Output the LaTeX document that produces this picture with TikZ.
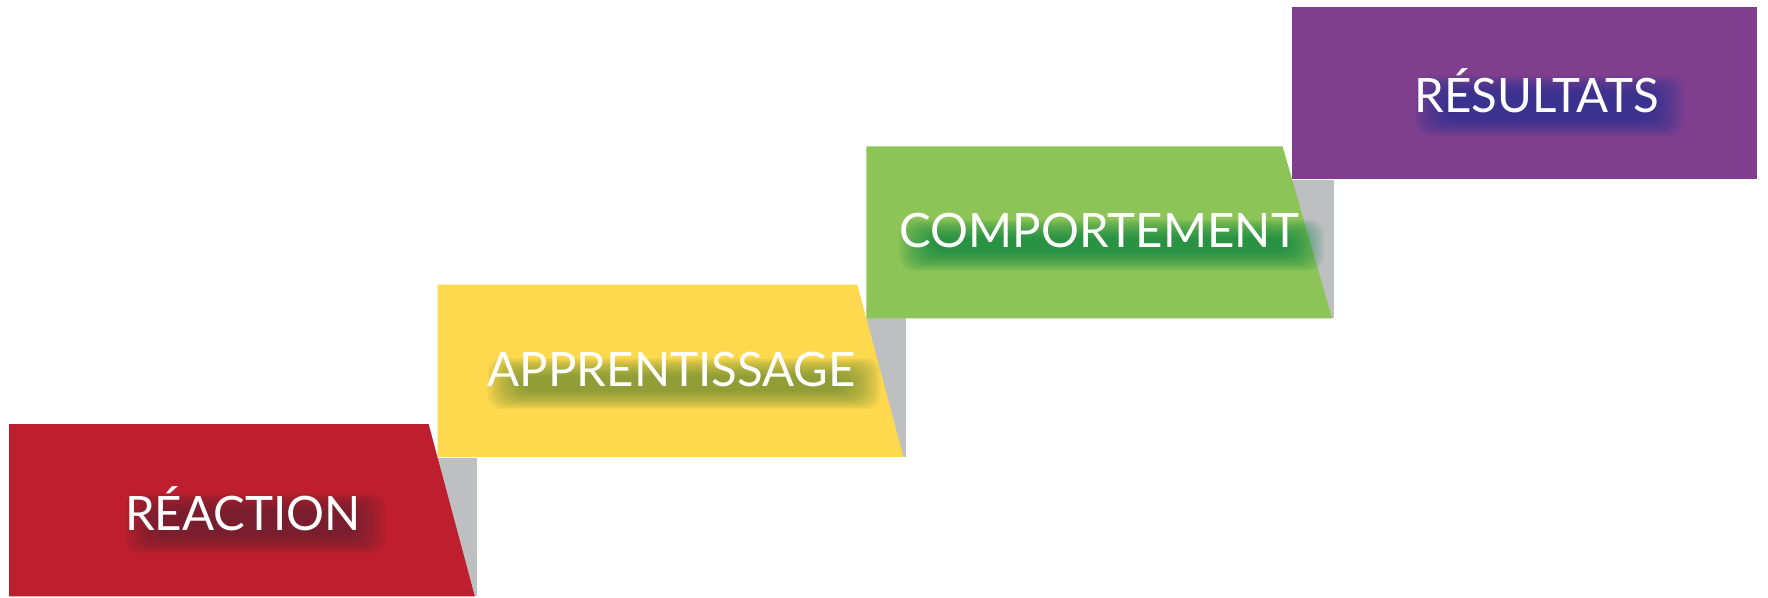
\documentclass[tikz,border=0pt]{standalone}
\usepackage{fontspec}
\setmainfont{Lato}
\usetikzlibrary{calc}
\definecolor{stepred}{RGB}{190,30,45}
\definecolor{glowred}{RGB}{95,35,45}
\definecolor{stepyellow}{RGB}{254,217,78}
\definecolor{glowyellow}{RGB}{95,135,50}
\definecolor{stepgreen}{RGB}{141,196,87}
\definecolor{glowgreen}{RGB}{0,130,65}
\definecolor{steppurple}{RGB}{128,63,142}
\definecolor{glowpurple}{RGB}{30,50,145}
\definecolor{stepgray}{RGB}{190,191,193}
\pgfdeclarelayer{blocks}
\pgfdeclarelayer{glow}
\pgfsetlayers{blocks,glow,main}
\tikzset{
	steplabel/.style={text=white,font=\fontsize{27}{30}\selectfont,inner sep=0pt},
}
\newcommand{\Step}[8]{
	\begin{scope}[shift={(#1,#2)}]
		%label
		\node[steplabel] (#6) at (#8,75) {#5};
		%block
		\begin{pgfonlayer}{blocks}
			\fill[#3](0,0)--(#7,0)--(414,153)--(0,153)--cycle;
		\end{pgfonlayer}
		%glow
		\begin{pgfonlayer}{glow}
			\foreach \i in {0,...,15}{
				\fill[#4,opacity=.065,rounded corners=8pt]
					($(#6.north west)+(0+2*\i,6+1.1*\i)$) rectangle ($(#6.south east)+(22-2*\i,20-1.1*\i)$);
			}
		\end{pgfonlayer}
	\end{scope}
}

\begin{document}
\begin{tikzpicture}[x=0.0225cm,y=-0.0225cm]
\useasboundingbox (0,0) rectangle (1571.5,531.5);
%shadows
\begin{pgfonlayer}{blocks}
\foreach \x/\y in {8/377,389/253,770/130}{
	\fill[stepgray](\x+373,\y+30) rectangle (\x+416,\y+153);
}
\end{pgfonlayer}
\Step{8}{377}{stepred}{glowred}{RÉACTION}{reaction}{373}{208}
\Step{389}{253}{stepyellow}{glowyellow}{APPRENTISSAGE}{apprentissage}{373}{208}
\Step{770}{130}{stepgreen}{glowgreen}{COMPORTEMENT}{comportement}{370}{207}
\Step{1148}{6}{steppurple}{glowpurple}{RÉSULTATS}{resultats}{414}{218}
\end{tikzpicture}
\end{document}
